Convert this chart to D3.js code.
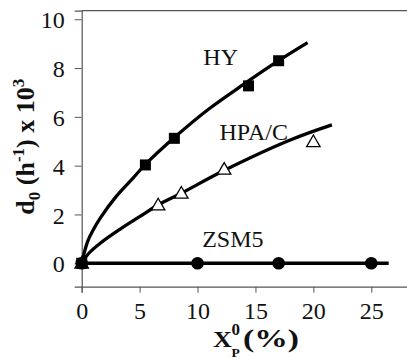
<!DOCTYPE html>
<html lang="en">
<head>
    <meta charset="UTF-8">
    <title>d0 vs Xp0</title>
    <script src="https://d3js.org/d3.v7.min.js"></script>
</head>
<body style="margin:0; background:#fff">
    <div id="chart-container">
        <svg width="407" height="361" style="display:block"></svg>
    </div>
    <script>
        // measured points
        const hyX = [0, 5.5, 8.0, 14.4, 17.0];
        const hyY = [0, 4.03, 5.12, 7.27, 8.30];
        const hpaX = [0, 6.6, 8.6, 12.3, 20.0];
        const hpaY = [0, 2.39, 2.87, 3.85, 4.98];
        const zsmX = [0, 10, 17, 25];
        const zsmY = [0, 0, 0, 0];

        // fitted curves
        const hyFitX = [0, 0.5, 1, 1.6, 3.0, 4.45, 5.5, 8.0, 11, 14, 17, 19.5];
        const hyFitY = [0, 0.88, 1.37, 1.85, 2.75, 3.5, 4.05, 5.15, 6.33, 7.34, 8.3, 9.04];
        const hpaFitX = [0, 0.6, 1.6, 3.3, 5.0, 6.6, 8.6, 12.2, 18.0, 21.6];
        const hpaFitY = [0, 0.4, 0.82, 1.39, 1.91, 2.39, 2.87, 3.78, 5.05, 5.67];
        const zsmFitX = [0, 26.5];
        const zsmFitY = [0, 0];

        const xTicks = [0, 5, 10, 15, 20, 25];
        const yTicks = [0, 2, 4, 6, 8, 10];

        const FONT = '"Liberation Serif"';

        const svg = d3.select('#chart-container svg');

        const x = d3.scaleLinear().domain([0, 28.1]).range([81.7, 407.2]);
        const y = d3.scaleLinear().domain([-0.96, 10.35]).range([286.7, 10.7]);

        const axisColor = '#555';

        // top border of the frame
        svg.append('line')
            .attr('x1', x(0)).attr('x2', x(28.1))
            .attr('y1', y(10.35)).attr('y2', y(10.35))
            .attr('stroke', axisColor).attr('stroke-width', 1.2);

        const xAxis = svg.append('g')
            .attr('transform', `translate(0,${y(-0.96)})`)
            .call(d3.axisBottom(x).tickValues(xTicks).tickSize(6).tickPadding(9).tickFormat(d3.format('d')));

        const yAxis = svg.append('g')
            .attr('transform', `translate(${x(0)},0)`)
            .call(d3.axisLeft(y).tickValues(yTicks).tickSize(7).tickPadding(10).tickFormat(d3.format('d')));

        [xAxis, yAxis].forEach(g => {
            g.attr('font-family', null).attr('font-size', null);
            g.select('.domain').attr('stroke', axisColor).attr('stroke-width', 1.2);
            g.selectAll('.tick line').attr('stroke', axisColor).attr('stroke-width', 1);
            g.selectAll('.tick text')
                .attr('fill', '#111')
                .style('font-family', FONT)
                .style('font-size', '24px');
        });
        yAxis.selectAll('.tick text').attr('dy', '0.36em');

        const line = d3.line()
            .x(d => x(d[0]))
            .y(d => y(d[1]))
            .curve(d3.curveCatmullRom.alpha(0.5));

        const fits = [
            [hyFitX, hyFitY],
            [hpaFitX, hpaFitY],
            [zsmFitX, zsmFitY]
        ];
        fits.forEach(([xs, ys]) => {
            svg.append('path')
                .datum(xs.map((v, i) => [v, ys[i]]))
                .attr('fill', 'none')
                .attr('stroke', '#000')
                .attr('stroke-width', 3.3)
                .attr('d', line);
        });

        // ZSM5 circles
        svg.selectAll('.zsm-point')
            .data(zsmX.map((v, i) => [v, zsmY[i]]))
            .enter()
            .append('circle')
            .attr('class', 'zsm-point')
            .attr('cx', d => x(d[0]))
            .attr('cy', d => y(d[1]))
            .attr('r', 6.3)
            .attr('fill', '#000');

        // HPA/C open triangles
        const tri = d3.symbol().type(d3.symbolTriangle).size(78);
        svg.selectAll('.hpa-point')
            .data(hpaX.map((v, i) => [v, hpaY[i]]))
            .enter()
            .append('path')
            .attr('class', 'hpa-point')
            .attr('transform', d => `translate(${x(d[0])},${y(d[1]) + 1})`)
            .attr('d', tri)
            .attr('fill', '#fff')
            .attr('stroke', '#000')
            .attr('stroke-width', 1.3);

        // HY filled squares
        svg.selectAll('.hy-point')
            .data(hyX.map((v, i) => [v, hyY[i]]))
            .enter()
            .append('rect')
            .attr('class', 'hy-point')
            .attr('x', d => x(d[0]) - 5.5)
            .attr('y', d => y(d[1]) - 5.5)
            .attr('width', 11)
            .attr('height', 11)
            .attr('fill', '#000');

        // series labels
        const labels = [
            { text: 'HY', x: 10.5, y: 8.13 },
            { text: 'HPA/C', x: 11.9, y: 5.05 },
            { text: 'ZSM5', x: 10.4, y: 0.68 }
        ];
        svg.selectAll('.series-label')
            .data(labels)
            .enter()
            .append('text')
            .attr('class', 'series-label')
            .attr('x', d => x(d.x))
            .attr('y', d => y(d.y))
            .attr('fill', '#111')
            .style('font-family', FONT)
            .style('font-size', '24px')
            .text(d => d.text);

        // y title
        const yTitle = svg.append('text')
            .attr('transform', 'translate(33.5,146.7) rotate(-90)')
            .attr('text-anchor', 'middle')
            .attr('fill', '#111')
            .style('font-family', FONT)
            .style('font-size', '26px')
            .style('font-weight', 'bold');
        yTitle.append('tspan').text('d');
        yTitle.append('tspan').attr('dy', 6).style('font-size', '17px').text('0');
        yTitle.append('tspan').attr('dy', -6).text(' (h');
        yTitle.append('tspan').attr('dy', -10).style('font-size', '17px').text('-1');
        yTitle.append('tspan').attr('dy', 10).text(') x 10');
        yTitle.append('tspan').attr('dy', -10).style('font-size', '17px').text('3');

        // x title
        const xTitle = svg.append('g')
            .attr('fill', '#111')
            .style('font-family', FONT)
            .style('font-weight', 'bold');
        xTitle.append('text').attr('x', 213).attr('y', 346.7).style('font-size', '24px')
            .attr('textLength', 19).attr('lengthAdjust', 'spacingAndGlyphs').text('X');
        xTitle.append('text').attr('x', 231.5).attr('y', 335).style('font-size', '17px').text('0');
        xTitle.append('text').attr('x', 231.5).attr('y', 356.7).style('font-size', '13.5px').text('P');
        xTitle.append('text').attr('x', 243).attr('y', 346.7).style('font-size', '25px')
            .attr('textLength', 56).attr('lengthAdjust', 'spacingAndGlyphs').text('(%)');
    </script>
</body>
</html>
